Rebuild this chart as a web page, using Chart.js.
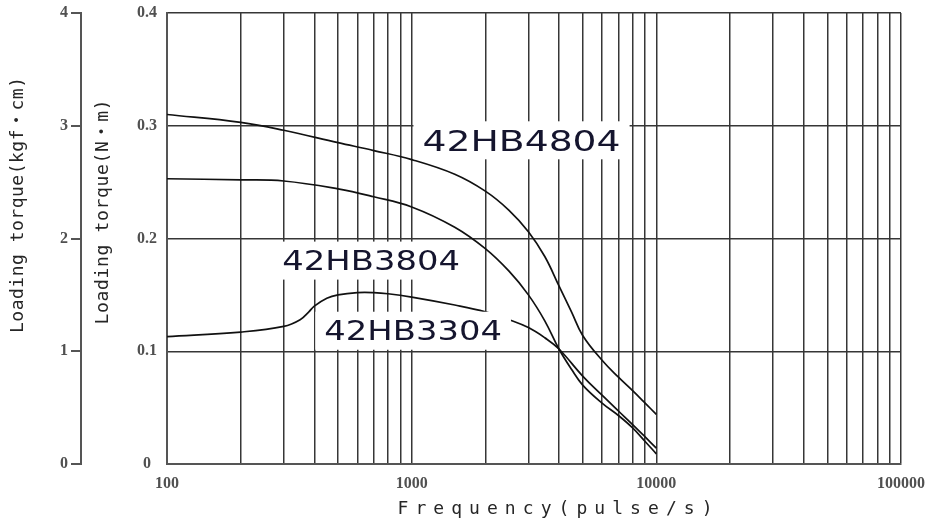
<!DOCTYPE html>
<html><head><meta charset="utf-8">
<script src="https://cdn.jsdelivr.net/npm/chart.js@4.4.1/dist/chart.umd.min.js"></script>
<style>html,body{margin:0;padding:0;background:#fff}</style>
</head><body>
<canvas id="c" width="934" height="522"></canvas>
<script>
// curve data: frequency (pulse/s) -> torque (N*m)
const models=['42HB4804','42HB3804','42HB3304'];
const freqA=[100,200,300,500,700,1000,1500,2000,2500,3000,3500,4000,4500,5000,6000,7000,8000,9000,10000];
const torque4804=[0.310,0.303,0.296,0.285,0.278,0.270,0.257,0.242,0.225,0.206,0.184,0.158,0.135,0.114,0.092,0.077,0.065,0.054,0.044];
const torque3804=[0.253,0.252,0.251,0.244,0.237,0.228,0.210,0.191,0.171,0.150,0.127,0.102,0.084,0.070,0.054,0.043,0.032,0.020,0.009];
const freqB=[100,200,300,350,380,400,450,500,600,700,800,1000,1500,2000,2500,3000,3500,4000,5000,6000,7000,8000,9000,10000];
const torque3304=[0.113,0.117,0.122,0.128,0.135,0.140,0.147,0.150,0.152,0.152,0.151,0.148,0.141,0.135,0.128,0.121,0.112,0.102,0.078,0.061,0.047,0.035,0.024,0.014];
const gridFreqs=[100,200,300,400,500,600,700,800,900,1000,2000,3000,4000,5000,6000,7000,8000,9000,10000,20000,30000,40000,50000,60000,70000,80000,90000,100000];
const freqLabels=[100,1000,10000,100000];
const nmTicks=[0,0.1,0.2,0.3,0.4];
const kgfTicks=[0,1,2,3,4];

const pts=(xs,ys)=>xs.map((x,i)=>({x,y:ys[i]}));
const serif={family:'"Liberation Serif", serif',size:16,weight:'bold'};
const tickColor='#505050';
const gridColor='#363636';

// where the model names sit (data coords of text centre) and how big
const nameLayout=[{f:2812,t:0.2871,size:29},{f:683,t:0.1804,size:26},{f:1014,t:0.1182,size:26}];

function spacedText(ctx,text,cx,cy,target){
    const ws=[...text].map(ch=>ctx.measureText(ch).width);
    const sum=ws.reduce((a,b)=>a+b,0);
    const sp=(target-sum)/(ws.length-1);
    let x=cx-target/2;
    [...text].forEach((ch,i)=>{ctx.fillText(ch,x,cy);x+=ws[i]+sp;});
}

const decor={
    id:'decor',
    afterDatasetsDraw(chart){
        const {ctx,scales:{x,y}}=chart;
        ctx.save();
        models.forEach((m,i)=>{
            const L=nameLayout[i];
            const px=x.getPixelForValue(L.f),py=y.getPixelForValue(L.t);
            ctx.font=L.size+'px "DejaVu Sans"';
            const w=ctx.measureText(m).width*1.3;
            ctx.fillStyle='#fff';
            ctx.fillRect(px-w/2-9,py-19,w+18,38);
            ctx.save();
            ctx.translate(px,py+L.size*0.365);
            ctx.scale(1.3,1);
            ctx.fillStyle='#15152e';
            ctx.textAlign='center';
            ctx.textBaseline='alphabetic';
            ctx.fillText(m,0,0);
            ctx.restore();
        });
        ctx.restore();
    },
    afterDraw(chart){
        const {ctx}=chart;
        ctx.save();
        ctx.fillStyle='#262626';
        ctx.textBaseline='middle';
        ctx.textAlign='left';
        ctx.font='18px "DejaVu Sans Mono", "Noto Sans CJK JP"';
        ctx.save();ctx.translate(18,205);ctx.rotate(-Math.PI/2);
        spacedText(ctx,'Loading torque(kgf・cm)',0,0,256);ctx.restore();
        ctx.save();ctx.translate(103,212);ctx.rotate(-Math.PI/2);
        spacedText(ctx,'Loading torque(N・m)',0,0,225);ctx.restore();
        spacedText(ctx,'Frequency(pulse/s)',555,509,315);
        ctx.restore();
    }
};

const line=(data)=>({data,borderColor:'#111',borderWidth:1.7,pointRadius:0,fill:false,tension:0.4});
const noPadY=s=>{s.paddingTop=0;s.paddingBottom=0;};

new Chart(document.getElementById('c'),{
    type:'line',
    data:{datasets:[
        {label:models[0],...line(pts(freqA,torque4804))},
        {label:models[1],...line(pts(freqA,torque3804))},
        {label:models[2],...line(pts(freqB,torque3304))}
    ]},
    options:{
        responsive:false,animation:false,devicePixelRatio:1,
        layout:{padding:{top:13,right:33,left:0,bottom:0}},
        plugins:{legend:{display:false},tooltip:{enabled:false}},
        scales:{
            x:{type:'logarithmic',min:100,max:100000,
                afterBuildTicks:s=>{s.ticks=gridFreqs.map(v=>({value:v}));},
                afterFit:s=>{s.height=58;s.paddingLeft=0;s.paddingRight=0;},
                grid:{color:gridColor,lineWidth:1.5,drawTicks:false},
                border:{display:true,color:'#555',width:2},
                ticks:{autoSkip:false,maxRotation:0,padding:10,color:tickColor,font:serif,
                    callback:v=>freqLabels.includes(v)?String(v):''}},
            y:{position:'left',weight:0,min:0,max:0.4,
                afterBuildTicks:s=>{s.ticks=nmTicks.map(v=>({value:v}));},
                afterFit:s=>{s.width=86;noPadY(s);},
                grid:{color:gridColor,lineWidth:1.5,drawTicks:false},
                border:{display:true,color:'#555',width:2},
                ticks:{crossAlign:'center',padding:10,color:tickColor,font:serif,callback:v=>String(v)}},
            y2:{position:'left',weight:1,min:0,max:4,
                afterBuildTicks:s=>{s.ticks=kgfTicks.map(v=>({value:v}));},
                afterFit:s=>{s.width=81;noPadY(s);},
                grid:{drawOnChartArea:false,drawTicks:true,tickLength:10,color:'#555',lineWidth:2},
                border:{display:true,color:'#555',width:2},
                ticks:{padding:3,color:tickColor,font:serif,callback:v=>String(v)}}
        }
    },
    plugins:[decor]
});
</script>
</body></html>
